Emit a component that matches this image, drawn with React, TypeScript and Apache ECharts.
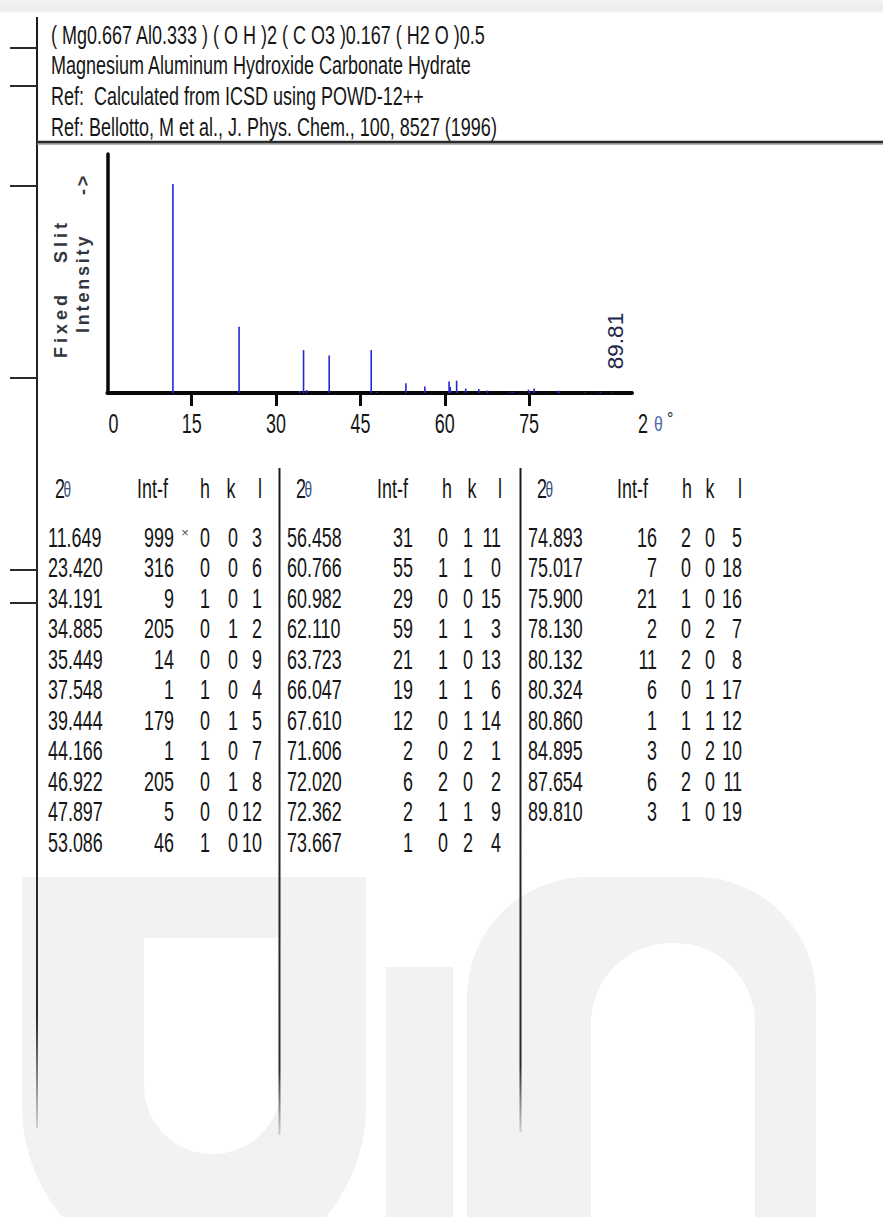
import React, { useEffect, useRef } from "react";
import * as echarts from "echarts";

// ---------- data ----------
const HEADER_LINES = [
  "( Mg0.667 Al0.333 ) ( O H )2 ( C O3 )0.167 ( H2 O )0.5",
  "Magnesium Aluminum Hydroxide Carbonate Hydrate",
  "Ref:  Calculated from ICSD using POWD-12++",
  "Ref: Bellotto, M et al., J. Phys. Chem., 100, 8527 (1996)",
];

const twoTheta = [
  11.649, 23.42, 34.191, 34.885, 35.449, 37.548, 39.444, 44.166, 46.922, 47.897, 53.086,
  56.458, 60.766, 60.982, 62.11, 63.723, 66.047, 67.61, 71.606, 72.02, 72.362, 73.667,
  74.893, 75.017, 75.9, 78.13, 80.132, 80.324, 80.86, 84.895, 87.654, 89.81,
];
const intF = [
  999, 316, 9, 205, 14, 1, 179, 1, 205, 5, 46,
  31, 55, 29, 59, 21, 19, 12, 2, 6, 2, 1,
  16, 7, 21, 2, 11, 6, 1, 3, 6, 3,
];
const hIdx = [
  0, 0, 1, 0, 0, 1, 0, 1, 0, 0, 1,
  0, 1, 0, 1, 1, 1, 0, 0, 2, 1, 0,
  2, 0, 1, 0, 2, 0, 1, 0, 2, 1,
];
const kIdx = [
  0, 0, 0, 1, 0, 0, 1, 0, 1, 0, 0,
  1, 1, 0, 1, 0, 1, 1, 2, 0, 1, 2,
  0, 0, 0, 2, 0, 1, 1, 2, 0, 0,
];
const lIdx = [
  3, 6, 1, 2, 9, 4, 5, 7, 8, 12, 10,
  11, 0, 15, 3, 13, 6, 14, 1, 2, 9, 4,
  5, 18, 16, 7, 8, 17, 12, 10, 11, 19,
];
const blockSizes = [11, 11, 10];
const xTickLabels = [0, 15, 30, 45, 60, 75];
const tableHeaders = ["2θ", "Int-f", "h", "k", "l"];
const yTitleLine1 = ["Fixed", "Slit"];
const yTitleLine2 = ["Intensity", "->"];

// ---------- layout ----------
const W = 883;
const H = 1217;
const FONT = "Liberation Sans";
const INK = "#161616";
const NARROW = { fs: 28, sx: 0.64 };
const WM = "#f0f3f2";

const BLOCKS = [
  { x2t: 48, intR: 174, star: 185, h: 205, k: 233, lR: 262, hd: { t: 55, i: 137, h: 205, k: 231, l: 260 } },
  { x2t: 287, intR: 413, star: 0, h: 443, k: 468, lR: 501, hd: { t: 296, i: 377, h: 447, k: 472, l: 500 } },
  { x2t: 528, intR: 657, star: 0, h: 686, k: 710, lR: 742, hd: { t: 537, i: 617, h: 687, k: 710, l: 740 } },
];

let measureCtx: CanvasRenderingContext2D | null = null;
function measure(text: string, size: number, weight = "normal"): number {
  if (!measureCtx) measureCtx = document.createElement("canvas").getContext("2d");
  if (!measureCtx) return text.length * size * 0.55;
  measureCtx.font = `${weight} ${size}px "${FONT}"`;
  return measureCtx.measureText(text).width;
}

function txt(text: string, x: number, y: number, o: any = {}) {
  const align = o.align || "left";
  return {
    type: "text",
    x,
    y,
    scaleX: o.sx ?? 1,
    rotation: o.rot ?? 0,
    silent: true,
    z: 10,
    style: {
      text,
      fontSize: o.fs ?? 21,
      fontFamily: o.ff ?? FONT,
      fontWeight: o.fw ?? "normal",
      fill: o.fill ?? INK,
      align,
      textAlign: align,
      verticalAlign: "middle",
      textVerticalAlign: "middle",
    },
  };
}

// letter-spaced text rotated to read bottom -> top
function spacedRotated(words: string[], starts: number[], x: number, y: number, size: number, spacing: number, fill: string) {
  const children: any[] = [];
  words.forEach((w, wi) => {
    let off = starts[wi];
    for (const ch of w) {
      children.push(txt(ch, off, 0, { fs: size, fill, fw: "bold" }));
      off += measure(ch, size, "bold") + spacing;
    }
  });
  return { type: "group", x, y, rotation: Math.PI / 2, children };
}

function fadeLine(x: number, y1: number, y2: number) {
  return {
    type: "line",
    silent: true,
    z: 5,
    shape: { x1: x, y1, x2: x, y2 },
    style: {
      lineWidth: 2,
      stroke: new echarts.graphic.LinearGradient(
        x, y1, x, y2,
        [
          { offset: 0, color: "#1c1c1c" },
          { offset: 0.9, color: "#2a2a2a" },
          { offset: 1, color: "#d0d0d0" },
        ],
        true
      ),
    },
  };
}

function wmRect(x: number, y: number, w: number, h: number, r: number[], fill: string) {
  return { type: "rect", silent: true, z: 0, shape: { x, y, width: w, height: h, r }, style: { fill } };
}

export default function App() {
  const ref = useRef<HTMLDivElement>(null);

  useEffect(() => {
    if (!ref.current) return;
    const chart = echarts.init(ref.current, null, { renderer: "svg" });

    chart.setOption({
      animation: false,
      backgroundColor: "#ffffff",
      grid: { left: 107.4, top: 154, width: 524.6, height: 239, containLabel: false },
      xAxis: {
        type: "value",
        min: 0,
        max: 93.3,
        interval: 15,
        axisLine: { show: true, lineStyle: { color: "#080808", width: 4 } },
        axisTick: { show: true, customValues: [15, 30, 45, 60, 75], length: 13, lineStyle: { color: "#080808", width: 3 } },
        axisLabel: { show: false },
        splitLine: { show: false },
      },
      yAxis: {
        type: "value",
        min: 0,
        max: 1142,
        axisLine: { show: true, lineStyle: { color: "#080808", width: 3.5 } },
        axisTick: { show: false },
        axisLabel: { show: false },
        splitLine: { show: false },
      },
      series: [
        {
          type: "custom",
          clip: false,
          z: 1,
          data: twoTheta.map((t, i) => [t, intF[i]]),
          renderItem: (_p: any, api: any) => {
            const a = api.coord([api.value(0), 0]);
            const b = api.coord([api.value(0), api.value(1)]);
            return {
              type: "line",
              shape: { x1: a[0], y1: a[1], x2: b[0], y2: b[1] },
              style: { stroke: "#2626d8", lineWidth: 1.6 },
            };
          },
        },
      ],
    });

    const px = (v: number) => chart.convertToPixel({ xAxisIndex: 0 }, v) as number;
    const base = chart.convertToPixel({ yAxisIndex: 0 }, 0) as number;

    const g: any[] = [];

    // faint watermark (lower logo)
    g.push(wmRect(22, 877, 344, 400, [0, 0, 170, 170], WM));
    g.push(wmRect(144, 938, 137, 216, [0, 0, 68, 68], "#ffffff"));
    g.push(wmRect(386, 967, 67, 250, [0, 0, 0, 0], WM));
    g.push(wmRect(467, 877, 349, 340, [120, 120, 0, 0], WM));
    g.push(wmRect(591, 943, 164, 274, [80, 80, 0, 0], "#ffffff"));

    // faint scan band on top
    g.push({
      type: "rect",
      shape: { x: 0, y: 0, width: W, height: 14 },
      style: {
        fill: new echarts.graphic.LinearGradient(0, 0, 0, 1, [
          { offset: 0, color: "#f2f3f3" },
          { offset: 0.7, color: "#e9ebeb" },
          { offset: 1, color: "#ffffff" },
        ]),
      },
      silent: true,
      z: 0,
    });

    // left binder line and ticks
    g.push(fadeLine(37, 17, 1128));
    [48, 86, 186, 378, 570, 603].forEach((y) =>
      g.push({ type: "line", z: 5, shape: { x1: 10, y1: y, x2: 37, y2: y }, style: { stroke: "#2a2a2a", lineWidth: 2 }, silent: true })
    );
    // thick separator
    g.push({ type: "line", z: 5, shape: { x1: 37, y1: 144, x2: W, y2: 144 }, style: { stroke: "#9a9a9a", lineWidth: 1.5 }, silent: true });
    g.push({ type: "line", z: 5, shape: { x1: 37, y1: 142, x2: W, y2: 142 }, style: { stroke: "#2b2b2b", lineWidth: 2.5 }, silent: true });
    // table dividers
    g.push(fadeLine(279.5, 468, 1135));
    g.push(fadeLine(520.5, 468, 1132));

    // header
    const headerY = [35, 65.5, 96, 127];
    HEADER_LINES.forEach((s, i) => g.push(txt(s, 51, headerY[i], { fs: 25, sx: 0.72 })));

    // x tick labels
    xTickLabels.forEach((v) => {
      const x = px(v);
      g.push(txt(String(v), v === 0 ? x + 1 : x, base + 30, { ...NARROW, align: v === 0 ? "left" : "center" }));
    });
    // axis title "2 θ°"
    const xEnd = px(93.3);
    g.push(txt("2", xEnd + 6, base + 30, NARROW));
    g.push(txt("θ", xEnd + 22, base + 31, { fs: 21, sx: 0.75, fill: "#4a6aa8" }));
    g.push(txt("°", xEnd + 35, base + 25, { fs: 16, fill: "#222" }));

    // last peak position label
    const last = twoTheta[twoTheta.length - 1];
    g.push(txt(last.toFixed(2), px(last) + 3, base - 52, { fs: 22.5, rot: Math.PI / 2, align: "center", fill: "#24284a" }));

    // y-axis title (two letter-spaced rotated lines)
    g.push(spacedRotated(yTitleLine1, [0, 95], 61, 358, 18, 4.0, "#33363e"));
    g.push(spacedRotated(yTitleLine2, [0, 138], 83, 333, 18, 2.8, "#33363e"));

    // table
    const headY = 488;
    const row0 = 537;
    const step = 30.5;
    let idx = 0;
    BLOCKS.forEach((b, bi) => {
      g.push(txt("2", b.hd.t, headY, NARROW));
      g.push(txt("θ", b.hd.t + 8.5, headY + 1, { fs: 22, sx: 0.62, fill: "#35507f" }));
      g.push(txt(tableHeaders[1], b.hd.i, headY, NARROW));
      g.push(txt(tableHeaders[2], b.hd.h, headY, { ...NARROW, align: "center" }));
      g.push(txt(tableHeaders[3], b.hd.k, headY, { ...NARROW, align: "center" }));
      g.push(txt(tableHeaders[4], b.hd.l, headY, { ...NARROW, align: "center" }));
      for (let r = 0; r < blockSizes[bi]; r++, idx++) {
        const y = row0 + r * step;
        g.push(txt(twoTheta[idx].toFixed(3), b.x2t, y, NARROW));
        g.push(txt(String(intF[idx]), b.intR, y, { ...NARROW, align: "right" }));
        if (intF[idx] === 999 && b.star) g.push(txt("×", b.star, y - 5, { fs: 13, align: "center", fill: "#555" }));
        g.push(txt(String(hIdx[idx]), b.h, y, { ...NARROW, align: "center" }));
        g.push(txt(String(kIdx[idx]), b.k, y, { ...NARROW, align: "center" }));
        g.push(txt(String(lIdx[idx]), b.lR, y, { ...NARROW, align: "right" }));
      }
    });

    chart.setOption({ graphic: { elements: g } });

    return () => chart.dispose();
  }, []);

  return (
    <div
      ref={ref}
      style={{ position: "absolute", left: 0, top: 0, width: W, height: H, background: "#fff" }}
    />
  );
}
